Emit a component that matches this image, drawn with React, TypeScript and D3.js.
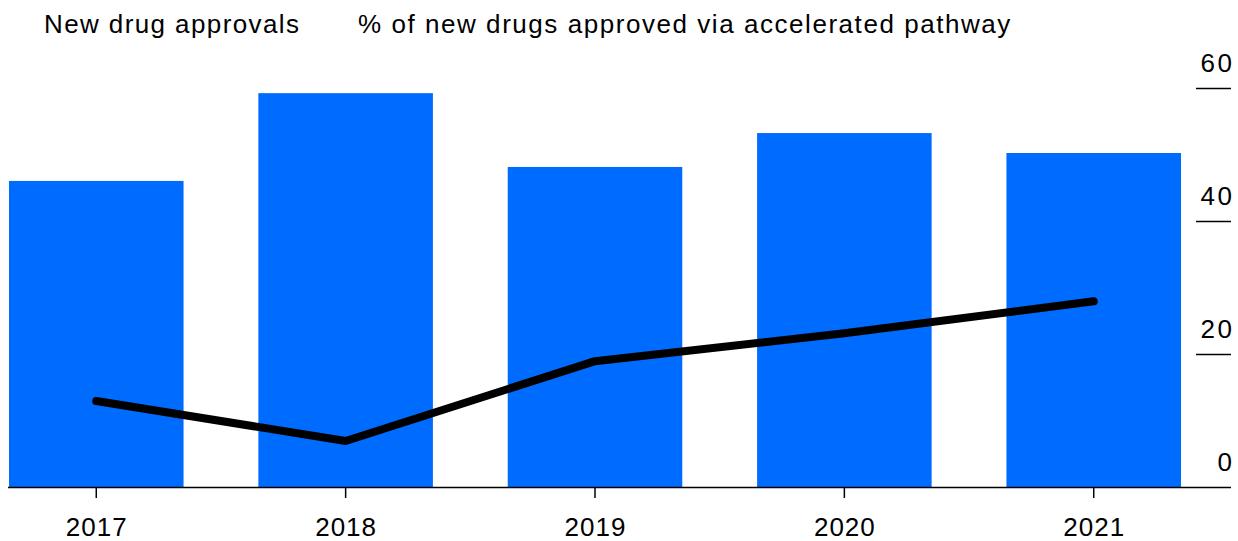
import React from "react";
import * as d3 from "d3";

const years = ["2017", "2018", "2019", "2020", "2021"];
const approvals = [46.1, 59.3, 48.2, 53.3, 50.3];
const acceleratedPct = [13, 7, 19, 23.2, 28];
const yTicks = [0, 20, 40, 60];

const W = 1238;
const H = 541;

export default function App() {
  const x = d3.scaleBand<string>().domain(years).range([9, 1181]).paddingInner(0.3).paddingOuter(0);
  const y = d3.scaleLinear().domain([0, 60]).range([487.5, 88.5]);
  const line = d3
    .line<number>()
    .x((_, i) => (x(years[i]) as number) + x.bandwidth() / 2)
    .y((d) => y(d));
  const font = "'Liberation Sans', Arial, Helvetica, sans-serif";
  return (
    <svg width={W} height={H} style={{ position: "absolute", left: 0, top: 0, background: "#fff" }} fontFamily={font}>
      <text x={44} y={33} fontSize={26} letterSpacing={1.4} fill="#000">New drug approvals</text>
      <text x={358} y={33} fontSize={26} letterSpacing={1.55} fill="#000">% of new drugs approved via accelerated pathway</text>
      {years.map((yr, i) => (
        <rect key={yr} x={x(yr)} y={y(approvals[i])} width={x.bandwidth()} height={y(0) - y(approvals[i])} fill="#006CFF" />
      ))}
      <line x1={8} x2={1231} y1={487.5} y2={487.5} stroke="#000" strokeWidth={1.5} />
      {years.map((yr) => {
        const cx = (x(yr) as number) + x.bandwidth() / 2;
        return (
          <g key={"t" + yr}>
            <line x1={cx} x2={cx} y1={488} y2={498} stroke="#000" strokeWidth={1.5} />
            <text x={cx + 0.5} y={536} fontSize={26} letterSpacing={1} textAnchor="middle" fill="#000">{yr}</text>
          </g>
        );
      })}
      {yTicks.map((t) => (
        <g key={"y" + t}>
          {t !== 0 && <line x1={1196} x2={1231} y1={y(t)} y2={y(t)} stroke="#000" strokeWidth={1.5} />}
          <text x={1234.5} y={y(t) - 17} fontSize={26} letterSpacing={2.5} textAnchor="end" fill="#000">{t}</text>
        </g>
      ))}
      <path d={line(acceleratedPct) || ""} fill="none" stroke="#000" strokeWidth={8} strokeLinecap="round" strokeLinejoin="round" />
    </svg>
  );
}
